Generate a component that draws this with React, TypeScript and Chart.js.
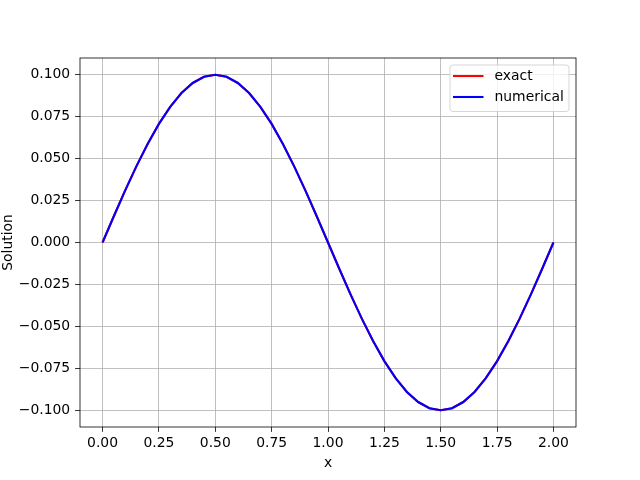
import React, { useEffect, useRef } from "react";
import { Chart, registerables } from "chart.js";

Chart.register(...registerables);

const xValues = [
  0, 0.05, 0.1, 0.15, 0.2, 0.25, 0.3, 0.35, 0.4, 0.45, 0.5, 0.55, 0.6, 0.65, 0.7, 0.75, 0.8, 0.85, 0.9, 0.95,
  1.0, 1.05, 1.1, 1.15, 1.2, 1.25, 1.3, 1.35, 1.4, 1.45, 1.5, 1.55, 1.6, 1.65, 1.7, 1.75, 1.8, 1.85, 1.9, 1.95, 2.0,
];
const exactValues = [
  0, 0.01564, 0.0309, 0.0454, 0.05878, 0.07071, 0.0809, 0.0891, 0.09511, 0.09877, 0.1, 0.09877, 0.09511, 0.0891,
  0.0809, 0.07071, 0.05878, 0.0454, 0.0309, 0.01564, 0, -0.01564, -0.0309, -0.0454, -0.05878, -0.07071, -0.0809,
  -0.0891, -0.09511, -0.09877, -0.1, -0.09877, -0.09511, -0.0891, -0.0809, -0.07071, -0.05878, -0.0454, -0.0309,
  -0.01564, 0,
];
const numericalValues = [
  0, 0.01564, 0.0309, 0.0454, 0.05878, 0.07071, 0.0809, 0.0891, 0.09511, 0.09877, 0.1, 0.09877, 0.09511, 0.0891,
  0.0809, 0.07071, 0.05878, 0.0454, 0.0309, 0.01564, 0, -0.01564, -0.0309, -0.0454, -0.05878, -0.07071, -0.0809,
  -0.0891, -0.09511, -0.09877, -0.1, -0.09877, -0.09511, -0.0891, -0.0809, -0.07071, -0.05878, -0.0454, -0.0309,
  -0.01564, 0,
];
const xTicks = [0, 0.25, 0.5, 0.75, 1.0, 1.25, 1.5, 1.75, 2.0];
const yTicks = [-0.1, -0.075, -0.05, -0.025, 0, 0.025, 0.05, 0.075, 0.1];
const seriesNames = ["exact", "numerical"];
const seriesColors = ["#ff0000", "#0000ff"];

const FONT = '"DejaVu Sans", sans-serif';
const FS = 13.9;

const fmt = (v: number, d: number) => {
  const s = Math.abs(v).toFixed(d);
  return v < -1e-12 ? "\u2212" + s : s;
};

const framePlugin = {
  id: "frame",
  afterDatasetsDraw(chart: any) {
    const { ctx, chartArea } = chart;
    ctx.save();
    ctx.strokeStyle = "#000";
    ctx.lineWidth = 0.8;
    ctx.strokeRect(chartArea.left, chartArea.top, chartArea.right - chartArea.left, chartArea.bottom - chartArea.top);
    ctx.restore();
  },
  afterDraw(chart: any) {
    const { ctx, chartArea } = chart;
    const right = chartArea.right - 7;
    const top = chartArea.top + 7;
    const w = 119;
    const h = 46.5;
    const left = right - w;
    ctx.save();
    ctx.beginPath();
    ctx.roundRect(left, top, w, h, 2.8);
    ctx.fillStyle = "rgba(255,255,255,0.8)";
    ctx.fill();
    ctx.strokeStyle = "rgba(204,204,204,0.8)";
    ctx.lineWidth = 1;
    ctx.stroke();
    ctx.font = `${FS}px ${FONT}`;
    ctx.textBaseline = "middle";
    ctx.textAlign = "left";
    seriesNames.forEach((name, i) => {
      const y = top + 11 + i * 21;
      ctx.strokeStyle = seriesColors[i];
      ctx.lineWidth = 2.08;
      ctx.beginPath();
      ctx.moveTo(left + 3, y);
      ctx.lineTo(left + 33.5, y);
      ctx.stroke();
      ctx.fillStyle = "#000";
      ctx.fillText(name, left + 44.5, y);
    });
    ctx.restore();
  },
};

export default function App() {
  const ref = useRef<HTMLCanvasElement>(null);
  useEffect(() => {
    if (!ref.current) return;
    const chart = new Chart(ref.current, {
      type: "line",
      data: {
        datasets: [
          {
            label: seriesNames[0],
            data: xValues.map((x, i) => ({ x, y: exactValues[i] })),
            borderColor: seriesColors[0],
            borderWidth: 2.08,
            pointRadius: 0,
            tension: 0,
            order: 1,
          },
          {
            label: seriesNames[1],
            data: xValues.map((x, i) => ({ x, y: numericalValues[i] })),
            borderColor: seriesColors[1],
            borderWidth: 2.08,
            pointRadius: 0,
            tension: 0,
            order: 0,
          },
        ],
      },
      options: {
        responsive: false,
        animation: false,
        events: [],
        layout: { padding: { top: 58, right: 64, left: 0, bottom: 0 } },
        plugins: { legend: { display: false }, tooltip: { enabled: false } },
        scales: {
          x: {
            type: "linear",
            min: -0.1,
            max: 2.1,
            afterBuildTicks: (s: any) => {
              s.ticks = xTicks.map((v) => ({ value: v }));
            },
            afterFit: (s: any) => {
              s.height = 53;
            },
            ticks: {
              autoSkip: false,
              maxRotation: 0,
              color: "#000",
              font: { family: FONT, size: FS },
              padding: 3,
              callback: (v: any) => fmt(Number(v), 2),
            },
            grid: { color: "#b0b0b0", lineWidth: 0.8, tickColor: "#000", tickLength: 4.9, tickWidth: 0.8 },
            border: { display: false },
            title: { display: true, text: "x", color: "#000", font: { family: FONT, size: FS }, padding: { top: 3, bottom: 8 } },
          },
          y: {
            type: "linear",
            min: -0.11,
            max: 0.11,
            afterBuildTicks: (s: any) => {
              s.ticks = yTicks.map((v) => ({ value: v }));
            },
            afterFit: (s: any) => {
              s.width = 80;
            },
            ticks: {
              autoSkip: false,
              color: "#000",
              font: { family: FONT, size: FS },
              padding: 4.9,
              callback: (v: any) => fmt(Number(v), 3),
            },
            grid: { color: "#b0b0b0", lineWidth: 0.8, tickColor: "#000", tickLength: 4.9, tickWidth: 0.8 },
            border: { display: false },
            title: { display: true, text: "Solution", color: "#000", font: { family: FONT, size: FS }, padding: { top: 0, bottom: 0 } },
          },
        },
      },
      plugins: [framePlugin],
    });
    return () => chart.destroy();
  }, []);
  return (
    <div style={{ position: "fixed", left: 0, top: 0, width: 640, height: 480, background: "#fff" }}>
      <canvas ref={ref} width={640} height={480} style={{ display: "block" }} />
    </div>
  );
}
